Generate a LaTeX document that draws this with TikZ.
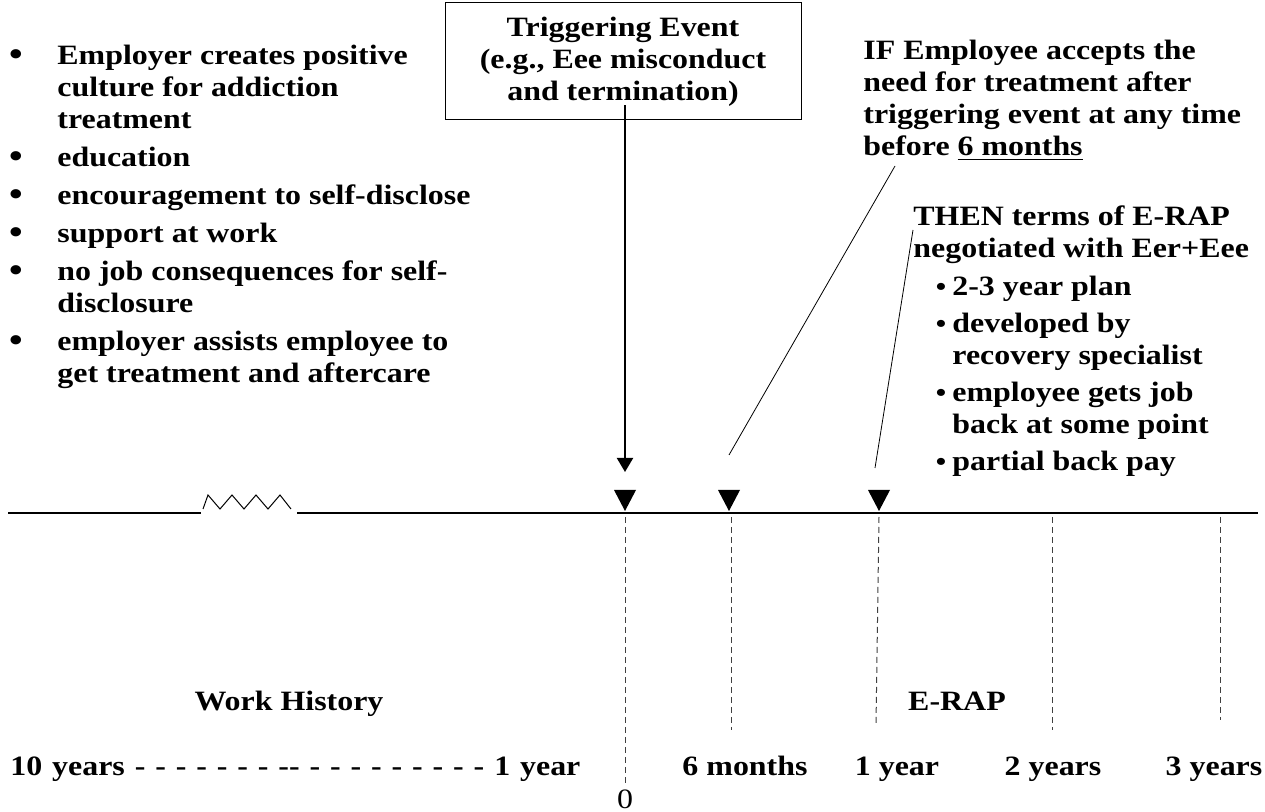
\documentclass[tikz,border=0pt]{standalone}
\usepackage{fontspec}
\setmainfont{Liberation Serif}[FakeStretch=1.14]
\usetikzlibrary{arrows.meta}
\newcommand{\txtfont}{\fontsize{14}{16}\selectfont\bfseries}

\begin{document}
\begin{tikzpicture}[x=0.5pt, y=-0.5pt,
    txt/.style={font=\txtfont, inner sep=0pt, anchor=base west},
    ctr/.style={font=\txtfont, inner sep=0pt, anchor=base},
    guide/.style={dash pattern=on 3pt off 2pt, line width=0.5pt, black!75},
    pointer/.style={line width=0.4pt}]
\useasboundingbox (0,0) rectangle (1265,812);

% employer side
\foreach \n/\y/\t in {a/65/Employer creates positive, b/97/culture for addiction, c/129/treatment,
    d/167/education, e/205/encouragement to self-disclose, f/243/support at work,
    g/281/no job consequences for self-, h/313/disclosure, i/351/employer assists employee to,
    j/383/get treatment and aftercare}
  \node[txt] (left\n) at (57,\y) {\t};
\foreach \n/\y in {a/65, d/167, e/205, f/243, g/281, i/351}
  \node[anchor=base, inner sep=0pt, font=\fontsize{17}{16}\selectfont\bfseries] (bul\n) at (16,\y+1) {\textbullet};

% triggering event
\node[draw, line width=0.5pt, minimum width=178pt, minimum height=58.5pt, align=center,
      font=\txtfont] (trig) at (623,61.5) {Triggering Event\\(e.g., Eee misconduct\\and termination)};
\coordinate (hit) at (625,472);
\draw[line width=1pt, -{Triangle[width=8pt,length=7pt]}] ([xshift=1pt,yshift=7.5pt]trig.south) -- (hit);

% timeline
\coordinate (t0) at (625,513);
\coordinate (t6) at (729,513);
\coordinate (t1) at (879,513);
\coordinate (t2) at (1052,513);
\coordinate (t3) at (1220,513);
\draw[line width=1pt] (8,513) -- (201,513);
\draw[line width=0.5pt] (203,509) -- (208,495) \foreach \k in {1,2,3} {-- ++(12,14) -- ++(12,-14)} -- (291,509);
\draw[line width=1pt] (297,513) -- (1258,513);
\foreach \c in {t0,t6,t1}
  \fill (\c) ++(0,-2) -- ++(-11,-21) -- ++(22,0) -- cycle;

\draw[guide] (t0) ++(0,4) -- ++(0,266);
\draw[guide] (t6) ++(2,4) -- ++(0,213);
\draw[guide] (t1) ++(0,4) -- ++(-3,208);
\draw[guide] (t2) ++(0,4) -- ++(0,213);
\draw[guide] (t3) ++(0,4) -- ++(0,203);

% employee accepts
\foreach \n/\y/\t in {1/60/IF Employee accepts the, 2/92/need for treatment after,
    3/124/triggering event at any time, 4/156/before \underline{6 months}}
  \node[txt] (if\n) at (863,\y) {\t};

\node[txt] (then) at (913,226) {THEN terms of E-RAP};
\node[txt] (nego) at (913,258) {negotiated with Eer+Eee};
\foreach \n/\y/\t in {a/296/2-3 year plan, b/333/developed by, c/365/recovery specialist,
    d/402/employee gets job, e/434/back at some point, f/471/partial back pay}
  \node[txt] (plan\n) at (952,\y) {\t};
\foreach \n/\y in {a/296, b/333, d/402, f/471}
  \node[anchor=base, inner sep=0pt, font=\fontsize{13}{16}\selectfont\bfseries] (dot\n) at (941,\y) {\textbullet};

\coordinate (ifend) at (729,455);
\coordinate (thenend) at (875,468);
\draw[pointer] ([xshift=16pt,yshift=-5pt]if4.base west) -- (ifend);
\draw[pointer] ([yshift=-2pt]then.base west) -- (thenend);

% labels
\node[ctr] (work) at (289,711) {Work History};
\node[ctr] (erap) at (957,711) {E-RAP};
\node[txt] (hist) at (10,776) {\makebox[285pt][s]{10 years - - - - - - - -{}- - - - - - - - - - 1 year}};
\node[ctr] (m6) at (745,776) {6 months};
\node[ctr] (y1) at (897,776) {1 year};
\node[ctr] (y2) at (1053,776) {2 years};
\node[ctr] (y3) at (1214,776) {3 years};
\node[anchor=base, inner sep=0pt, font=\fontsize{14}{16}\selectfont] (zero) at (625,808) {0};
\end{tikzpicture}
\end{document}
